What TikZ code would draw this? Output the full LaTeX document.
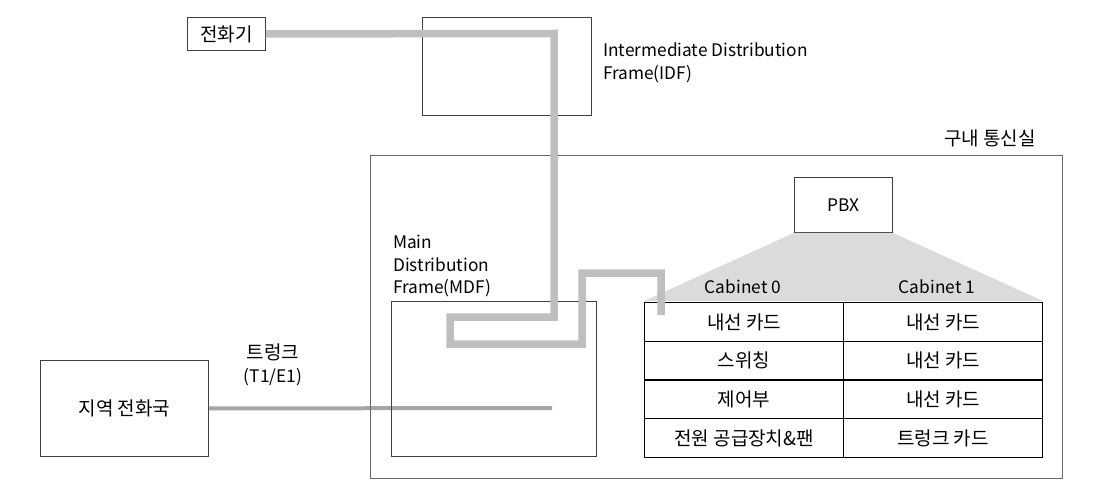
\documentclass[tikz,border=0pt]{standalone}
\usepackage{fontspec}
\setmainfont{Noto Sans CJK KR}
\newcommand{\kofont}{\fontsize{19}{22.5}\selectfont}
\begin{document}
\begin{tikzpicture}[x=1pt,y=-1pt,
  font=\fontsize{17.3}{22.5}\selectfont,
  ko/.style={font=\kofont},
  box/.style={draw=black!75, line width=0.9pt, inner sep=0pt},
  cell/.style={draw=black, line width=1.2pt, minimum width=199pt, minimum height=38.7pt, inner sep=0pt, anchor=north west, ko},
  cable/.style={draw=black!25, line width=7.5pt},
  trunk/.style={draw=black!35, line width=4pt},
  lbl/.style={inner sep=0pt, align=left}]
\useasboundingbox (0,0) rectangle (1107,500);
% trunk (below boxes)
\node[box, ko, minimum width=168pt, minimum height=96pt, anchor=north west] (office) at (40,360) {지역 전화국};
\coordinate (trunkend) at (552,408);
\draw[trunk] (office.east) -- (trunkend);
\node[inner sep=0pt, align=center] (trunklbl) at (273,365) {{\kofont 트렁크}\\(T1/E1)};
% room
\node[box, draw=black!60, minimum width=692pt, minimum height=323pt, anchor=north west] (room) at (370,155) {};
\node[inner sep=0pt, ko, anchor=base east] (roomlbl) at (1036,145) {구내 통신실};
% IDF
\node[box, minimum width=169pt, minimum height=98pt, anchor=north west] (idf) at (422,17) {};
\node[lbl, anchor=north west] (idflbl) at (603,43) {Intermediate Distribution\\Frame(IDF)};
% phone
\node[box, ko, minimum width=78pt, minimum height=33pt, anchor=north west] (phone) at (187,17) {전화기};
% MDF
\node[box, minimum width=205pt, minimum height=155pt, anchor=north west] (mdf) at (391,301) {};
\node[lbl, anchor=north west] (mdflbl) at (393,235) {Main\\Distribution\\Frame(MDF)};
% PBX
\node[box, minimum width=98pt, minimum height=55pt, anchor=north west] (pbx) at (794,177) {PBX};
\fill[black!14] (pbx.south west) -- (pbx.south east) -- (1043,301) -- (644,301) -- cycle;
\node[inner sep=0pt] (cab0) at (743,287) {Cabinet 0};
\node[inner sep=0pt] (cab1) at (937,287) {Cabinet 1};
% table
\node[cell] (a1) at (644,302) {내선 카드};
\node[cell] (b1) at (843,302) {내선 카드};
\node[cell] (a2) at (644,340.7) {스위칭};
\node[cell] (b2) at (843,340.7) {내선 카드};
\node[cell] (a3) at (644,379.4) {제어부};
\node[cell] (b3) at (843,379.4) {내선 카드};
\node[cell] (a4) at (644,418.1) {전원 공급장치\&팬};
\node[cell] (b4) at (843,418.1) {트렁크 카드};
% cable
\coordinate (cableend) at (661,315);
\draw[cable] (phone.east) -- (554,33.5) -- (554,317) -- (450,317) -- (450,344) -- (582,344) -- (582,273) -- (661,273) -- (cableend);
\end{tikzpicture}
\end{document}
